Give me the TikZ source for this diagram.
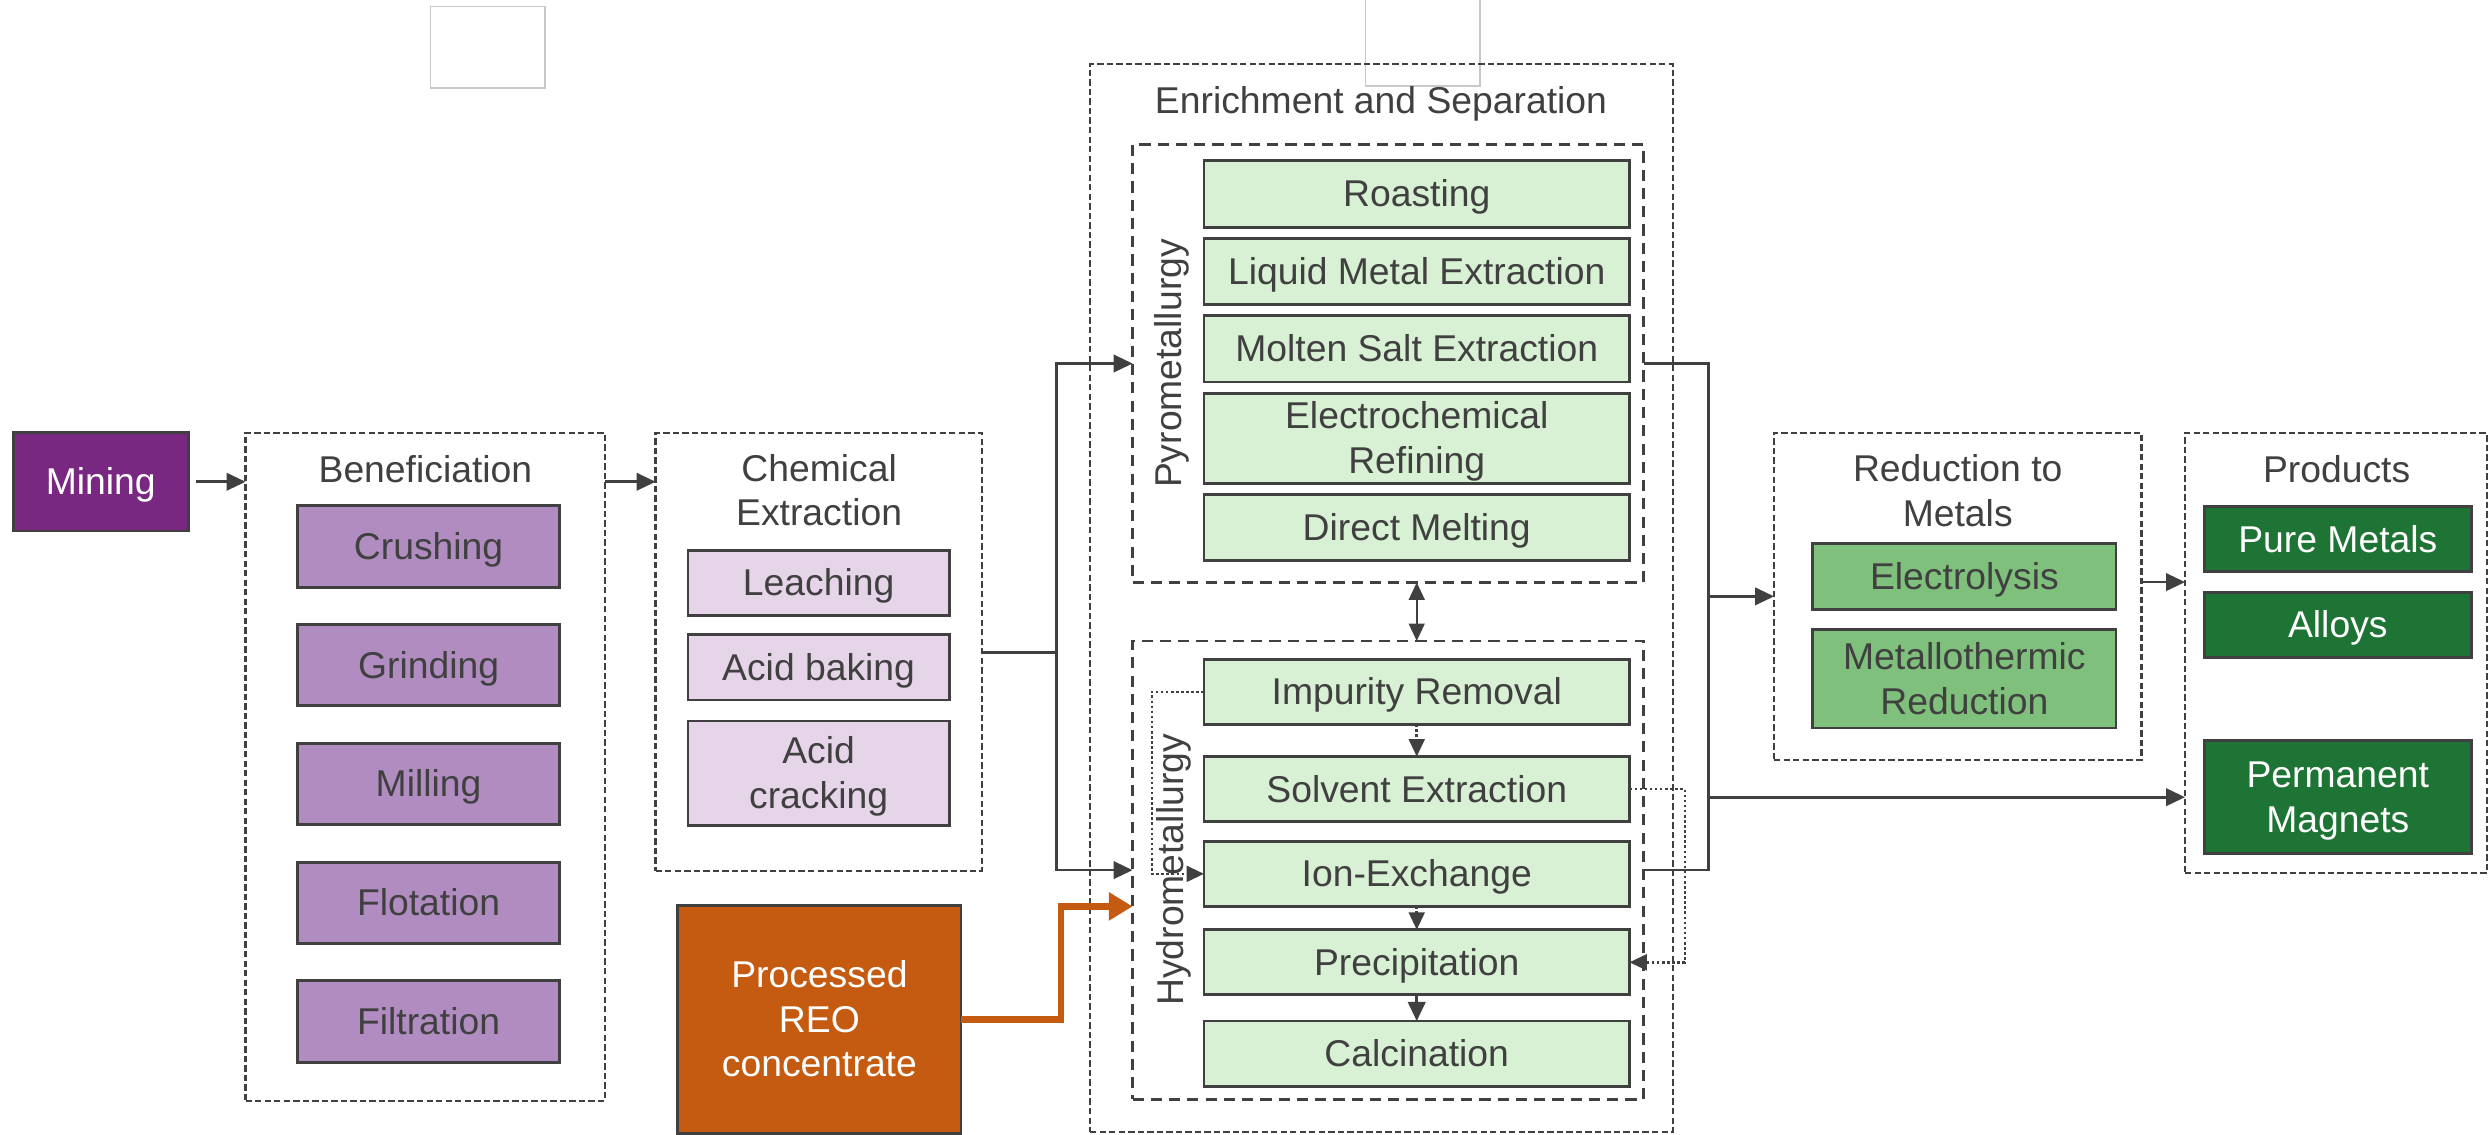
\documentclass[tikz,border=0pt]{standalone}
\usepackage{fontspec}
\setmainfont{Liberation Sans}
\usetikzlibrary{arrows.meta,calc}

\definecolor{ink}{RGB}{64,64,64}
\definecolor{minepurple}{RGB}{120,40,128}
\definecolor{benepurple}{RGB}{176,140,193}
\definecolor{chemlilac}{RGB}{230,213,233}
\definecolor{reoorange}{RGB}{197,90,17}
\definecolor{sepgreen}{RGB}{216,240,211}
\definecolor{redgreen}{RGB}{127,192,124}
\definecolor{prodgreen}{RGB}{30,116,52}
\definecolor{ghost}{RGB}{200,200,200}

\begin{document}
\begin{tikzpicture}[x=1pt,y=-1pt,
  lbl/.style={inner sep=0pt, outer sep=0pt, align=center, text=ink,
    font=\fontsize{23.5}{28}\selectfont, text height=21.3pt, text depth=5pt},
  twolines/.style={text height=49.3pt},
  threelines/.style={text height=77.3pt},
  proc/.style={lbl, draw=ink, line width=1.8pt},
  group/.style={draw=ink, line width=1.4pt, dash pattern=on 4pt off 2pt,
    inner sep=0pt, outer sep=0pt},
  subgroup/.style={draw=ink, line width=1.6pt, dash pattern=on 7pt off 4.5pt,
    inner sep=0pt, outer sep=0pt},
  minebox/.style={proc, fill=minepurple, text=white},
  benebox/.style={proc, fill=benepurple, minimum width=164.7pt, minimum height=51.2pt},
  chembox/.style={proc, fill=chemlilac, minimum width=164.6pt},
  reobox/.style={proc, fill=reoorange, text=white},
  sepbox/.style={proc, fill=sepgreen, minimum width=268pt},
  redbox/.style={proc, fill=redgreen, minimum width=191pt},
  prodbox/.style={proc, fill=prodgreen, text=white, minimum width=168.5pt},
  ghostbox/.style={draw=ghost, line width=0.8pt, inner sep=0pt},
  conn/.style={draw=ink, line width=1.7pt},
  arr/.style={conn, -{Triangle[length=12pt,width=11pt]}},
  dbl/.style={draw=ink, line width=1.2pt,
    {Triangle[length=11pt,width=10pt]}-{Triangle[length=11pt,width=10pt]}},
  dotarr/.style={draw=ink, line width=1.6pt, dash pattern=on 1.6pt off 1.6pt,
    -{Triangle[length=11pt,width=10pt]}},
  feed/.style={draw=reoorange, line width=4pt,
    -{Triangle[length=15pt,width=17pt]}},
]
\useasboundingbox (0,0) rectangle (1568,715);

% empty placeholder frames along the top edge
\node[ghostbox, minimum width=72.1pt, minimum height=51.4pt] (blankA) at (307.35,29.8) {};
\draw[ghost, line width=0.8pt] (860.3,0) -- (860.3,54.2) -- (932.4,54.2) -- (932.4,0);

% ---- stage frames ----
\node[group, minimum width=226.3pt, minimum height=420.9pt] (bene) at (267.85,483.05) {};
\node[group, minimum width=205.6pt, minimum height=275.7pt] (chem) at (515.8,410.85) {};
\node[group, minimum width=367pt, minimum height=672.5pt] (enr) at (870.2,376.75) {};
\node[subgroup, minimum width=322pt, minimum height=275.8pt] (pyro) at (874.5,229) {};
\node[subgroup, minimum width=322pt, minimum height=288.7pt] (hydro) at (874.5,548.15) {};
\node[group, minimum width=231.4pt, minimum height=205.8pt] (red) at (1233.3,375.7) {};
\node[group, minimum width=190pt, minimum height=277.4pt] (prod) at (1471.5,411.5) {};

% ---- frame titles ----
\node[lbl] (beneT) at (268,295.5) {Beneficiation};
\node[lbl, twolines] (chemT) at (516,309) {Chemical\\Extraction};
\node[lbl] (enrT) at (870,63.2) {Enrichment and Separation};
\node[lbl, rotate=90] (pyroT) at (736,229) {Pyrometallurgy};
\node[lbl, rotate=90] (hydroT) at (737.4,548) {Hydrometallurgy};
\node[lbl, twolines] (redT) at (1233.3,309.4) {Reduction to\\Metals};
\node[lbl] (prodT) at (1472,295.8) {Products};

% ---- mining and beneficiation ----
\node[minebox, minimum width=110pt, minimum height=62pt] (mining) at (63.5,303.5) {Mining};
\node[benebox] (crush) at (270,344.3) {Crushing};
\node[benebox] (grind) at (270,419.1) {Grinding};
\node[benebox] (mill)  at (270,493.9) {Milling};
\node[benebox] (flot)  at (270,568.7) {Flotation};
\node[benebox] (filt)  at (270,643.5) {Filtration};

% ---- chemical extraction ----
\node[chembox, minimum height=41.3pt] (leach) at (515.7,367.2) {Leaching};
\node[chembox, minimum height=41.4pt] (bake)  at (515.7,420.3) {Acid baking};
\node[chembox, twolines, minimum height=65.8pt] (crack) at (515.7,487.1) {Acid\\cracking};

\node[reobox, threelines, minimum width=178.3pt, minimum height=143.6pt] (reo) at (516.2,642.2)
  {Processed\\REO\\concentrate};

% ---- pyrometallurgy ----
\node[sepbox, minimum height=41.7pt] (roast)  at (892.5,122.2) {Roasting};
\node[sepbox, minimum height=41.7pt] (liquid) at (892.5,170.9) {Liquid Metal Extraction};
\node[sepbox, minimum height=41.6pt] (molten) at (892.5,219.8) {Molten Salt Extraction};
\node[sepbox, twolines, minimum height=56.7pt] (echem) at (892.5,276) {Electrochemical\\Refining};
\node[sepbox, minimum height=41.7pt] (melt)   at (892.5,332.4) {Direct Melting};

% ---- hydrometallurgy ----
\node[sepbox, minimum height=41pt] (imp)  at (892.5,435.8) {Impurity Removal};
\node[sepbox, minimum height=41pt] (solv) at (892.5,497.1) {Solvent Extraction};
\node[sepbox, minimum height=41pt] (ion)  at (892.5,550.5) {Ion-Exchange};
\node[sepbox, minimum height=41pt] (prec) at (892.5,606.2) {Precipitation};
\node[sepbox, minimum height=41pt] (calc) at (892.5,663.7) {Calcination};

% ---- reduction and products ----
\node[redbox, minimum height=41.8pt] (elec) at (1237.5,363.3) {Electrolysis};
\node[redbox, twolines, minimum height=61.9pt] (metth) at (1237.5,427.7) {Metallothermic\\Reduction};

\node[prodbox, minimum height=40.8pt] (pure) at (1472.75,339.6) {Pure Metals};
\node[prodbox, minimum height=41pt] (alloy) at (1472.75,393.5) {Alloys};
\node[prodbox, twolines, minimum height=71pt] (mag) at (1472.75,502.2) {Permanent\\Magnets};

% ---- connectors ----
\draw[arr, shorten <=5pt] (mining.east) -- (mining.east -| bene.west);
\draw[arr] (mining.east -| bene.east) -- (mining.east -| chem.west);

\coordinate (cj) at (665.6,410.85);
\draw[conn] (chem.east) -- (cj);
\draw[arr] (cj) |- (pyro.west);
\draw[arr] (cj) |- (hydro.west);

\coordinate (oj) at (668.4,571);
\draw[feed] (reo.east) -| (oj) -- (oj -| hydro.west);

\draw[dbl] (pyro.south -| imp.north) -- (hydro.north -| imp.north);

\draw[dotarr] (imp.south) -- (solv.north);
\draw[dotarr] (ion.south) -- (prec.north);
\draw[arr] (prec.south) -- (calc.north);

\coordinate (dl) at (725.6,435.8);
\draw[dotarr] (imp.west) -- (dl) |- (ion.west);
\coordinate (dr) at (1061.4,497.1);
\draw[dotarr] (solv.east) -- (dr) |- (prec.east);

\coordinate (rj) at (1076.2,375.7);
\draw[conn] (pyro.east) -| (rj |- hydro.east) -- (hydro.east);
\draw[arr] (rj) -- (red.west);
\draw[arr] (rj |- mag.west) -- (mag.west -| prod.west);

\draw[arr] ($(red.east)+(0,-9)$) -- ($(red.east -| prod.west)+(0,-9)$);

\end{tikzpicture}
\end{document}
